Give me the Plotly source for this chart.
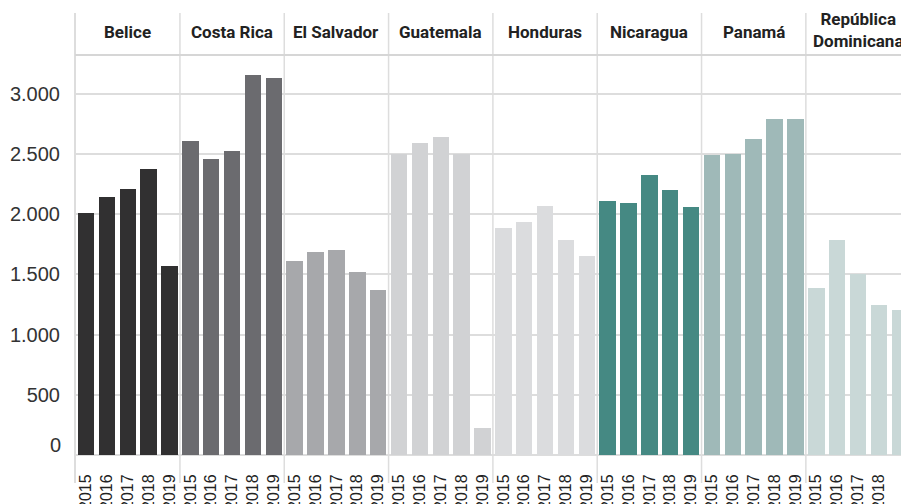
import plotly.graph_objects as go

countries = ["Belice", "Costa Rica", "El Salvador", "Guatemala", "Honduras",
             "Nicaragua", "Panamá", "República<br>Dominicana"]
years = ["2015", "2016", "2017", "2018", "2019"]

belice = [2010, 2145, 2210, 2375, 1570]
costa_rica = [2610, 2460, 2525, 3155, 3125]
el_salvador = [1610, 1685, 1705, 1520, 1370]
guatemala = [2500, 2590, 2640, 2500, 220]
honduras = [1885, 1930, 2070, 1785, 1655]
nicaragua = [2110, 2095, 2325, 2200, 2060]
panama = [2490, 2500, 2625, 2790, 2790]
rep_dom = [1390, 1785, 1505, 1245, 1205]

series = [belice, costa_rica, el_salvador, guatemala, honduras, nicaragua, panama, rep_dom]
colors = ["#313031", "#6b6b6f", "#a7a8ab", "#d1d2d4", "#dbdcde",
          "#458983", "#9fb9b8", "#c9d8d7"]

y_ticks = [500, 1000, 1500, 2000, 2500, 3000]
y_ticktext = ["500", "1.000", "1.500", "2.000", "2.500", "3.000"]

n = len(years)
fig = go.Figure()
tickvals, ticktext = [], []
for i, (name, vals, col) in enumerate(zip(countries, series, colors)):
    xs = [i * n + j for j in range(n)]
    tickvals += xs
    ticktext += years
    fig.add_trace(go.Bar(x=xs, y=vals, marker=dict(color=col, line=dict(width=0)),
                         width=0.79, name=name.replace("<br>", " "), showlegend=False))

grid_col = "#dddddd"
shapes = []
# left axis line
shapes.append(dict(type="line", xref="paper", yref="paper", x0=0, x1=0, y0=-0.07, y1=1.105,
                   line=dict(color=grid_col, width=2), layer="below"))
# panel separators
for i in range(1, len(countries)):
    xp = i * n - 0.5
    shapes.append(dict(type="line", xref="x", yref="paper", x0=xp, x1=xp, y0=-0.07, y1=1.105,
                       line=dict(color=grid_col, width=1.5), layer="below"))
# header bottom line
shapes.append(dict(type="line", xref="paper", yref="paper", x0=0, x1=1, y0=1.0, y1=1.0,
                   line=dict(color="#d6d6d6", width=2), layer="below"))

annotations = []
for i, name in enumerate(countries):
    two = "<br>" in name
    annotations.append(dict(x=i * n + (n - 1) / 2, xref="x", y=1.063 if two else 1.0575,
                            yref="paper", text="<b>" + name + "</b>", showarrow=False,
                            xanchor="center", yanchor="middle",
                            font=dict(family="Roboto", size=17, color="#222222")))
annotations.append(dict(x=0, xref="paper", y=0, yref="y", text="0", showarrow=False,
                        xanchor="right", yanchor="middle", xshift=-12, yshift=10,
                        font=dict(family="Liberation Sans", size=20, color="#333333")))

fig.update_layout(
    width=901, height=504,
    margin=dict(l=75, r=0, t=55, b=49, pad=0, autoexpand=False),
    paper_bgcolor="white", plot_bgcolor="white",
    bargap=0,
    shapes=shapes, annotations=annotations,
    xaxis=dict(range=[-0.53, 39.06], tickvals=tickvals, ticktext=ticktext, tickangle=-90,
               automargin=False,
               showgrid=False, zeroline=False, showline=False,
               ticks="outside", ticklen=12, tickcolor="rgba(0,0,0,0)",
               tickfont=dict(family="Liberation Sans", size=16, color="#222222")),
    yaxis=dict(range=[0, 3320], tickvals=y_ticks, ticktext=y_ticktext, automargin=False,
               showgrid=True, gridcolor=grid_col, gridwidth=2,
               zeroline=True, zerolinecolor=grid_col, zerolinewidth=2, showline=False,
               ticks="outside", ticklen=10, tickcolor="rgba(0,0,0,0)",
               tickfont=dict(family="Liberation Sans", size=20, color="#333333")),
)

fig.write_html("out.html", config={"displayModeBar": False},
               post_script="document.body.style.margin='0';document.body.style.overflow='hidden';")
